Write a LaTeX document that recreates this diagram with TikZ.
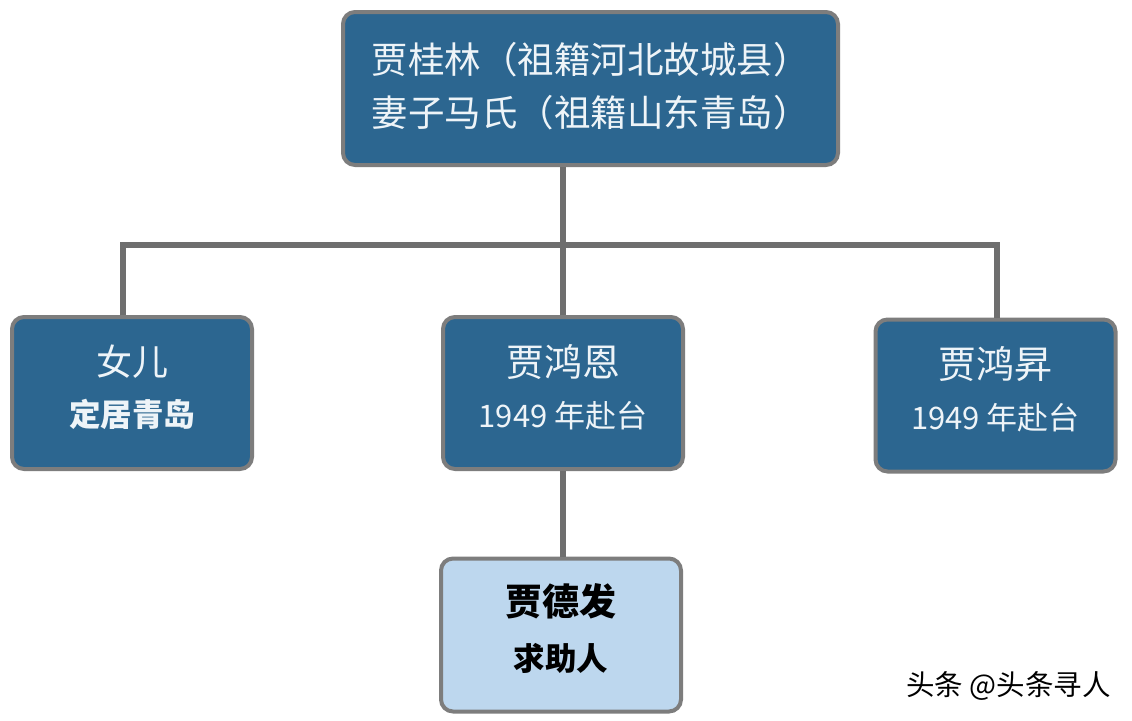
\documentclass[tikz,border=0pt]{standalone}
\usepackage{fontspec}
\newfontfamily\cjk{Noto Sans CJK SC}
\usepackage{tikz}
\usetikzlibrary{calc}
\definecolor{boxblue}{HTML}{2C6690}
\definecolor{boxpale}{HTML}{BDD7EE}
\definecolor{boxedge}{HTML}{7D7D7D}
\definecolor{linkgray}{HTML}{6E6E6E}
\definecolor{txtwhite}{HTML}{EEF4F8}
\newcommand{\lift}{\rule[-15pt]{0pt}{0pt}}
\tikzset{
	person/.style={draw=boxedge, line width=4pt, fill=boxblue, rounded corners=12pt, text=txtwhite, align=center, inner sep=0pt},
	seeker/.style={person, fill=boxpale, text=black},
	link/.style={draw=linkgray, line width=6pt}
}

\begin{document}
\begin{tikzpicture}[x=1pt, y=-1pt]
			%%%%% START %%%%%
			\useasboundingbox[fill=white] (0, 0) rectangle (1132, 720);
			
			\node[person, minimum width=495pt, minimum height=153pt, font={\cjk\fontsize{36.5}{53}\selectfont}] (guilin) at (590.5, 88.5) {贾桂林（祖籍河北故城县）\\妻子马氏（祖籍山东青岛）\rule[-8pt]{0pt}{0pt}};
			
			\node[person, minimum width=240pt, minimum height=152pt, font={\cjk\fontsize{36}{51}\selectfont}] (daughter) at (132, 393) {女儿\\{\bfseries\fontsize{31.5}{31.5}\selectfont 定居青岛\lift}};
			\node[person, minimum width=240pt, minimum height=152pt, font={\cjk\fontsize{38}{51}\selectfont}] (hongen) at (563, 393) {贾鸿恩\\{\fontsize{31}{31}\selectfont 1949 年赴台\lift}};
			\node[person, minimum width=240pt, minimum height=152pt, font={\cjk\fontsize{38}{51}\selectfont}] (hongsheng) at (995.5, 395.5) {贾鸿昇\\{\fontsize{31}{31}\selectfont 1949 年赴台\lift}};
			
			\node[seeker, minimum width=240pt, minimum height=153pt, font={\cjk\bfseries\fontsize{37}{55}\selectfont}] (defa) at (561, 635) {贾德发\\{\fontsize{31.5}{31.5}\selectfont 求助人\lift}};
			
			\coordinate (bus) at (563, 245);
			\draw[link] (bus |- guilin.south) -- (hongen.north);
			\draw[link] ([xshift=-9pt]daughter.north) |- (bus) -| ([xshift=1.5pt]hongsheng.north);
			\draw[link] (hongen.south) -- (hongen.south |- defa.north);
			
			\node[font={\cjk\fontsize{28.5}{28.5}\selectfont}, anchor=east, inner sep=0pt] (mark) at (1111, 686) {头条 @头条寻人};
			%%%%% END %%%%%
		\end{tikzpicture}
\end{document}
